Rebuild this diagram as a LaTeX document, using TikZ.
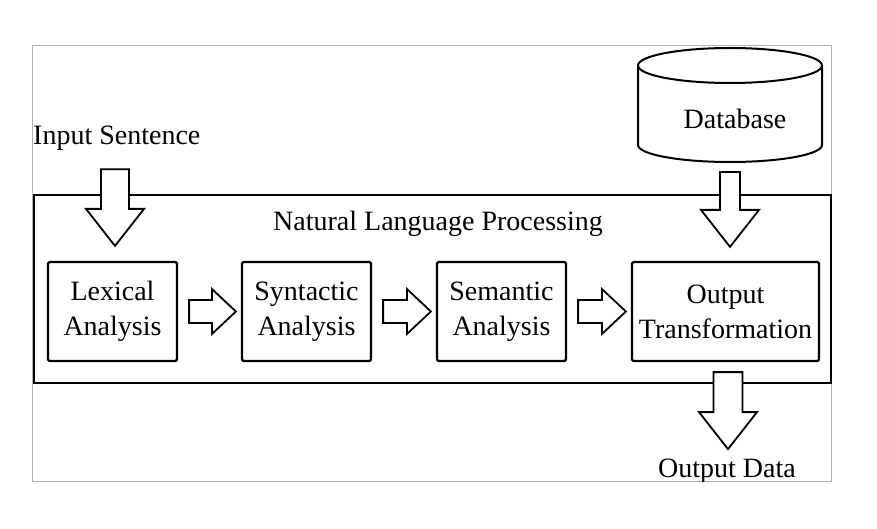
\documentclass[tikz,border=0pt]{standalone}
\usepackage{fontspec}
\setmainfont{Liberation Serif}
\usetikzlibrary{calc}

\newcommand{\harrow}[2]{%
  \draw[block] let \p1 = ($(#1.east)+(11,0)$), \p2 = ($(#2.west)+(-5,0)$) in
    (\x1,\y1+11.5pt) -- (\x2-24pt,\y1+11.5pt) -- (\x2-24pt,\y1+22.5pt) -- (\x2,\y1)
    -- (\x2-24pt,\y1-22.5pt) -- (\x2-24pt,\y1-11.5pt) -- (\x1,\y1-11.5pt) -- cycle;}
\newcommand{\darrow}[3]{%
  \draw[block] let \p1 = #1, \p2 = #2 in
    (\x2-#3pt,\y1) -- (\x2-#3pt,\y2+37pt) -- (\x2-29pt,\y2+37pt) -- (\x2,\y2)
    -- (\x2+29pt,\y2+37pt) -- (\x2+#3pt,\y2+37pt) -- (\x2+#3pt,\y1) -- cycle;}

\begin{document}
\begin{tikzpicture}[x=1pt,y=-1pt,
  txt/.style={font=\fontsize{28}{35}\selectfont, inner sep=0pt},
  stage/.style={txt, draw, line width=2.2pt, rounded corners=1.5pt, align=center,
    minimum width=129, minimum height=99},
  block/.style={draw, fill=white, line width=1.8pt, line join=miter}]
\useasboundingbox (0,0) rectangle (877,529);
\draw[gray!60, line width=1pt] (32,46) rectangle (831,481);
\node[draw, line width=2pt, minimum width=797, minimum height=188] (nlp) at (432.5,289) {};
\node[txt, anchor=base] (nlplabel) at (438,231) {Natural Language Processing};

\node[txt, anchor=base west] (insent) at (33,145) {Input Sentence};

\node[stage] (lex) at (112.5,311.5) {Lexical\\Analysis};
\node[stage] (syn) at (306.5,311.5) {Syntactic\\Analysis};
\node[stage] (sem) at (501.5,311.5) {Semantic\\Analysis};
\node[stage, minimum width=187] (out) at (725.5,311.5) {Output\\Transformation};

\harrow{lex}{syn}
\harrow{syn}{sem}
\harrow{sem}{out}

\draw[line width=2pt] (730,65.5) ellipse [x radius=92, y radius=17.5];
\draw[line width=2pt] (638,65.5) -- (638,145)
  arc[start angle=180, end angle=0, x radius=92, y radius=17] -- (822,65.5);
\coordinate (dbbot) at (730,162);
\node[txt, anchor=base] (db) at (735,129) {Database};

\darrow{($(insent.south)+(0,18)$)}{($(lex.north)+(2.5,-15)$)}{14}
\darrow{($(dbbot)+(0,10)$)}{($(out.north)+(4.5,-14)$)}{10}
\darrow{($(out.south)+(0,10)$)}{($(out.south)+(2.5,87)$)}{14.5}

\begin{scope}
\clip (0,0) rectangle (877,481);
\node[txt, anchor=base] (outdata) at (727,477) {Output Data};
\end{scope}
\end{tikzpicture}
\end{document}
